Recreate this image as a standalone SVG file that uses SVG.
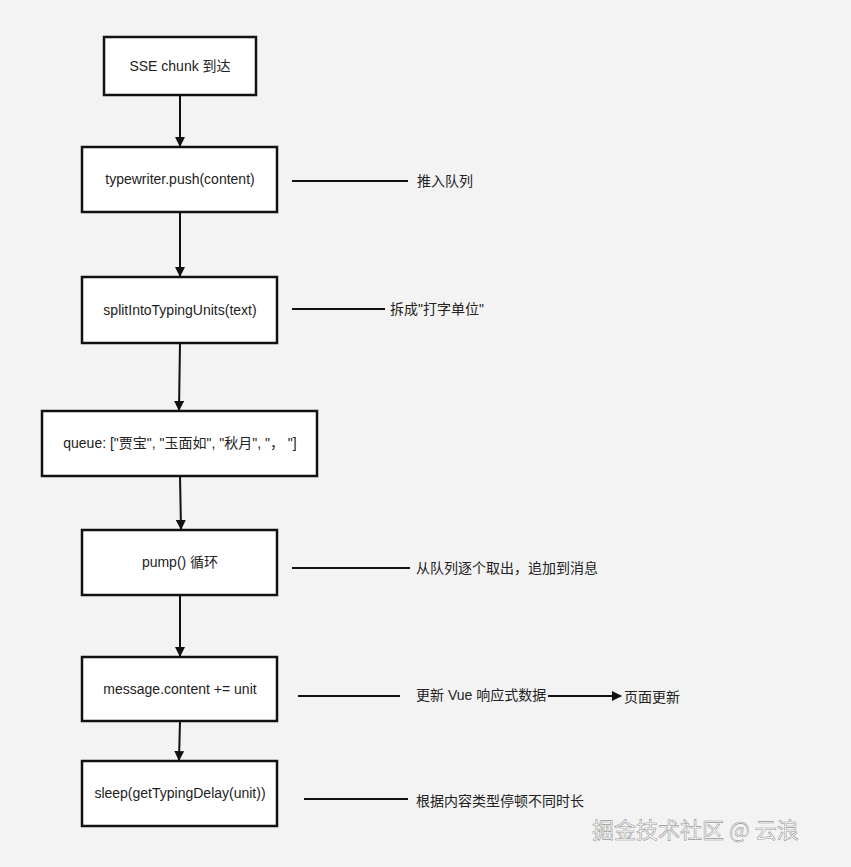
<svg xmlns="http://www.w3.org/2000/svg" width="851" height="867" viewBox="0 0 851 867">
<style>
.n{fill:#fff;stroke:#111;stroke-width:2.5}
.t{font-family:"Liberation Sans","Noto Sans CJK SC",sans-serif;font-size:14px;fill:#222}
.c{stroke:#111;stroke-width:2;fill:none}
</style>
<defs><marker id="a" markerWidth="10" markerHeight="10" refX="9" refY="5" orient="auto" markerUnits="userSpaceOnUse"><path d="M0,0L10,5L0,10z" fill="#111"/></marker></defs>
<rect width="851" height="867" fill="#f3f3f3"/>
<g id="connectors">
<path class="c" d="M180,95V146" marker-end="url(#a)"/>
<path class="c" d="M180,212V276" marker-end="url(#a)"/>
<path class="c" d="M180,343L179,410" marker-end="url(#a)"/>
<path class="c" d="M180,476L181,529" marker-end="url(#a)"/>
<path class="c" d="M180,595V656" marker-end="url(#a)"/>
<path class="c" d="M180,721L179,760" marker-end="url(#a)"/>
<path class="c" d="M292,181H408M292,309H385M292,568H410M298,696H400M304,799H408"/>
<path class="c" d="M548,696H621" marker-end="url(#a)"/>
</g>
<g id="n1"><rect class="n" x="104" y="37" width="152" height="58"/><text class="t" x="180" y="71" text-anchor="middle">SSE chunk 到达</text></g>
<g id="n2"><rect class="n" x="82" y="147" width="195" height="65"/><text class="t" x="180" y="184" text-anchor="middle">typewriter.push(content)</text></g>
<g id="n3"><rect class="n" x="82" y="277" width="195" height="66"/><text class="t" x="180" y="315" text-anchor="middle">splitIntoTypingUnits(text)</text></g>
<g id="n4"><rect class="n" x="42" y="411" width="275" height="65"/><text class="t" x="180" y="448" text-anchor="middle">queue: ["贾宝", "玉面如", "秋月", "，  "]</text></g>
<g id="n5"><rect class="n" x="82" y="530" width="195" height="65"/><text class="t" x="180" y="567" text-anchor="middle">pump() 循环</text></g>
<g id="n6"><rect class="n" x="82" y="657" width="195" height="64"/><text class="t" x="180" y="694" text-anchor="middle">message.content += unit</text></g>
<g id="n7"><rect class="n" x="82" y="761" width="195" height="65"/><text class="t" x="180" y="798" text-anchor="middle">sleep(getTypingDelay(unit))</text></g>
<g id="labels">
<text class="t" x="417" y="186">推入队列</text>
<text class="t" x="390" y="314">拆成"打字单位"</text>
<text class="t" x="416" y="573">从队列逐个取出，追加到消息</text>
<text class="t" x="416" y="700">更新 Vue 响应式数据</text>
<text class="t" x="624" y="702">页面更新</text>
<text class="t" x="416" y="806">根据内容类型停顿不同时长</text>
<text x="592" y="838" style="font-family:'Noto Sans CJK SC',sans-serif;font-size:22px;fill:#fff;stroke:#999;stroke-width:0.6">掘金技术社区 @ 云浪</text>
</g>
</svg>
